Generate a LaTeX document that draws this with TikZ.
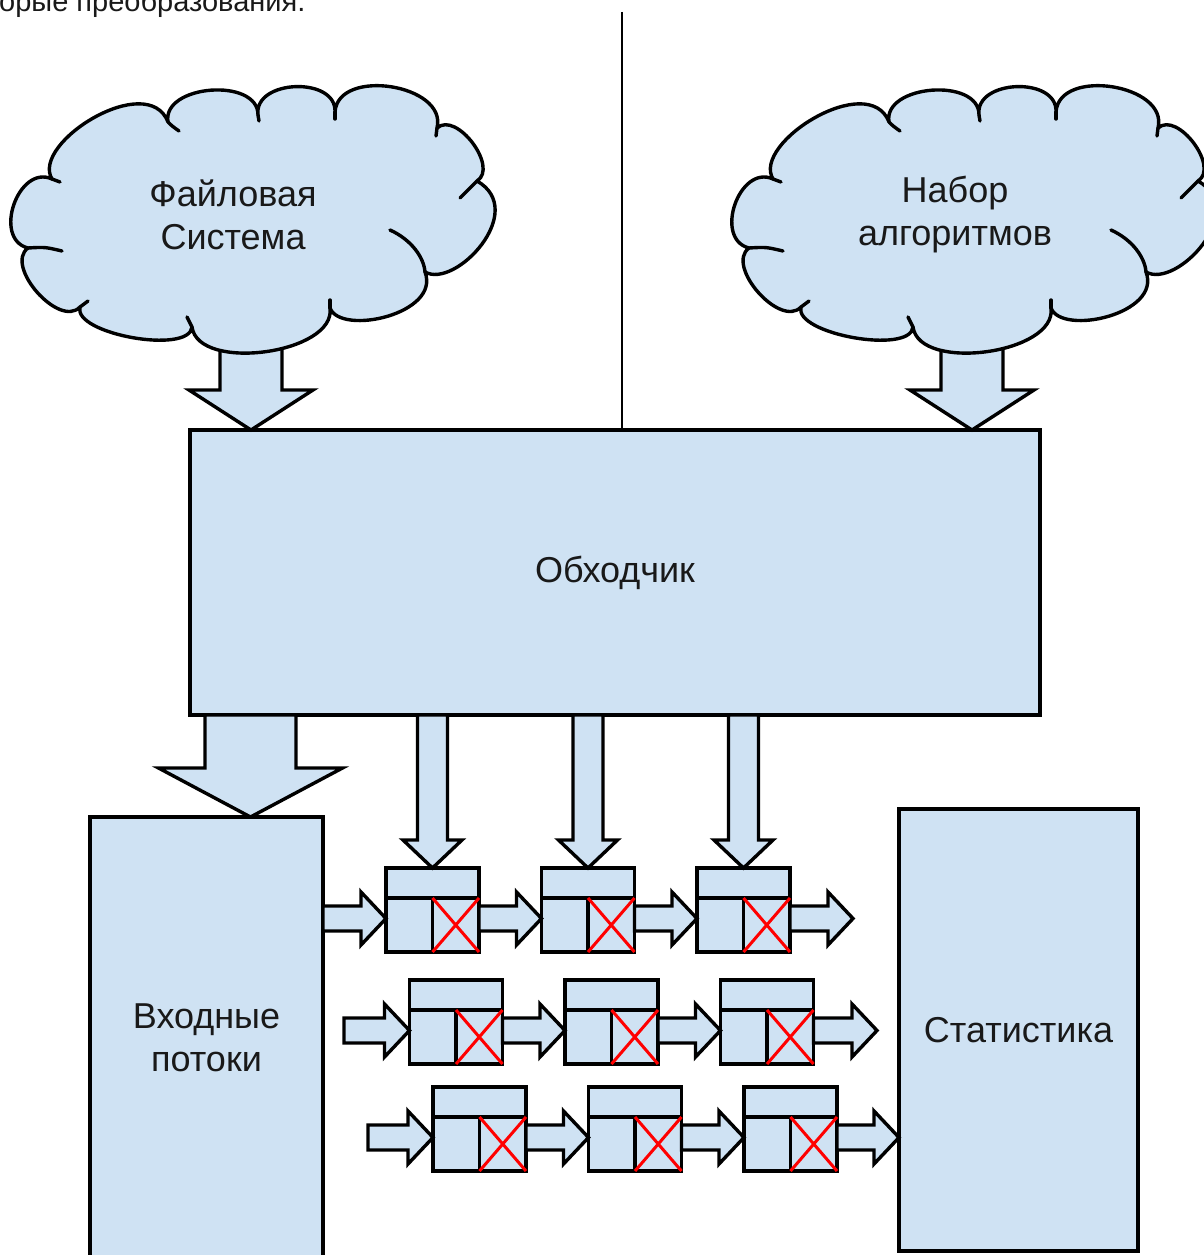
\documentclass[tikz,border=0pt]{standalone}
\usepackage{fontspec}
\setmainfont{Liberation Sans}
\usetikzlibrary{calc}

\definecolor{paleblue}{RGB}{207,226,243}
\definecolor{ink}{RGB}{25,25,25}

\tikzset{
  boxline/.style={draw=black, line width=3.4pt, fill=paleblue, line join=miter},
  block/.style={boxline, inner sep=0pt, outer sep=0pt, anchor=north west},
  cell/.style={block, minimum width=93pt, minimum height=84pt},
  rule/.style={draw=black, line width=3.4pt},
  redcross/.style={draw=red, line width=3pt},
  cloudline/.style={draw=black, line width=3.4pt, fill=paleblue, line join=round},
  tail/.style={draw=black, line width=3.4pt, line cap=round},
  caption/.style={font=\fontsize{36}{43}\selectfont, align=center, text=ink},
}

% vertical block arrow: #1 start, #2 tip, #3 shaft half width, #4 head half width, #5 head length
\newcommand\vblock[5]{%
  \draw[boxline] ($(#1)+(-#3,0)$) -- ($(#2)+(-#3,-#5)$) -- ($(#2)+(-#4,-#5)$) -- (#2)
    -- ($(#2)+(#4,-#5)$) -- ($(#2)+(#3,-#5)$) -- ($(#1)+(#3,0)$) -- cycle;}

% horizontal block arrow: #1 start, #2 tip, #3 shaft half height, #4 head half height, #5 head length
\newcommand\hblock[5]{%
  \draw[boxline] ($(#1)+(0,-#3)$) -- ($(#2)+(-#5,-#3)$) -- ($(#2)+(-#5,-#4)$) -- (#2)
    -- ($(#2)+(-#5,#4)$) -- ($(#2)+(-#5,#3)$) -- ($(#1)+(0,#3)$) -- cycle;}

% cloud: #1 name prefix, #2 horizontal offset
\newcommand\drawcloud[2]{%
\begin{scope}[shift={(#2,0)}]
  \coordinate (#1c1) at (52,179);
  \coordinate (#1c2) at (168,122);
  \coordinate (#1c3) at (258,115);
  \coordinate (#1c4) at (335,112);
  \coordinate (#1c5) at (437,128);
  \coordinate (#1c6) at (477,181);
  \coordinate (#1c7) at (425,272);
  \coordinate (#1c8) at (330,308);
  \coordinate (#1c9) at (192,327);
  \coordinate (#1c10) at (80,307);
  \coordinate (#1c11) at (28,248);
  \path[cloudline] (#1c1)
    .. controls ($(#1c1)!42pt!95:(#1c2)$) and ($(#1c2)!56pt!-95:(#1c1)$) .. (#1c2)
    .. controls ($(#1c2)!38pt!95:(#1c3)$) and ($(#1c3)!38pt!-95:(#1c2)$) .. (#1c3)
    .. controls ($(#1c3)!36pt!95:(#1c4)$) and ($(#1c4)!36pt!-95:(#1c3)$) .. (#1c4)
    .. controls ($(#1c4)!45pt!95:(#1c5)$) and ($(#1c5)!45pt!-95:(#1c4)$) .. (#1c5)
    .. controls ($(#1c5)!26pt!95:(#1c6)$) and ($(#1c6)!26pt!-95:(#1c5)$) .. (#1c6)
    .. controls ($(#1c6)!60pt!90:(#1c7)$) and ($(#1c7)!35pt!-90:(#1c6)$) .. (#1c7)
    .. controls ($(#1c7)!45pt!90:(#1c8)$) and ($(#1c8)!30pt!-90:(#1c7)$) .. (#1c8)
    .. controls ($(#1c8)!46pt!90:(#1c9)$) and ($(#1c9)!46pt!-90:(#1c8)$) .. (#1c9)
    .. controls ($(#1c9)!28pt!95:(#1c10)$) and ($(#1c10)!28pt!-95:(#1c9)$) .. (#1c10)
    .. controls ($(#1c10)!30pt!95:(#1c11)$) and ($(#1c11)!30pt!-95:(#1c10)$) .. (#1c11)
    .. controls ($(#1c11)!37pt!95:(#1c1)$) and ($(#1c1)!37pt!-95:(#1c11)$) .. (#1c1)
    -- cycle;
  % inner strokes where the puffs overlap
  \draw[tail] (#1c1) -- (60,182);
  \draw[tail] (#1c2) .. controls (172,126) .. (179,131);
  \draw[tail] (#1c3) -- (259,121);
  \draw[tail] (#1c4) -- (335,119);
  \draw[tail] (#1c5) -- (436,136);
  \draw[tail] (#1c6) .. controls (469,189) .. (460,198);
  \draw[tail] (390,230) .. controls (412,240) and (424,258) .. (#1c7);
  \draw[tail] (330,300) -- (#1c8);
  \draw[tail] (#1c9) -- (187,317);
  \draw[tail] (#1c10) -- (88,301);
  \draw[tail] (62,251) .. controls (45,247) .. (#1c11);
\end{scope}}

\begin{document}
\begin{tikzpicture}[x=1pt,y=-1pt]
\useasboundingbox (0,0) rectangle (1204,1255);
\clip (0,0) rectangle (1204,1255);
\fill[white] (0,0) rectangle (1204,1255);

% tail of the text line above
\node[anchor=base west, inner sep=0pt, font=\fontsize{29}{34}\selectfont, text=ink]
  (pagetext) at (-1,12) {орые преобразования.};

% central walker box
\node[block, caption, minimum width=850pt, minimum height=285pt] (walker) at (190,430) {Обходчик};

% separator line
\coordinate (divtop) at (622,12);
\draw[line width=2.6pt] (divtop) -- (divtop |- walker.north);

% arrows from the clouds into the walker
\coordinate (fsfoot) at (251,325);
\coordinate (algfoot) at (972,325);
\vblock{fsfoot}{fsfoot |- walker.north}{31}{62}{40}
\vblock{algfoot}{algfoot |- walker.north}{31}{62}{40}

% clouds
\drawcloud{fs}{0}
\drawcloud{alg}{721}
\node[caption] (fslabel) at (233,215) {Файловая\\Система};
\node[caption] (alglabel) at (955,215) {Набор\\алгоритмов};

% side boxes
\node[block, minimum width=233pt, minimum height=470pt] (inbox) at (90,817) {};
\node[caption] (inlabel) at (206.5,1038) {Входные\\потоки};
\node[block, caption, minimum width=239pt, minimum height=442pt] (stats) at (899,809) {Статистика};

% walker -> input streams
\coordinate (inhead) at (250.5,817);
\vblock{walker.south -| inhead}{inhead}{45.5}{92}{49}

% queue elements
\foreach \r/\t in {1/868,2/980,3/1087}{
  \foreach \c in {1,2,3}{
    \pgfmathsetmacro\lx{386+23.5*(\r-1)+155.5*(\c-1)}
    \node[cell] (e\r\c) at (\lx,\t) {};
    \draw[rule] ($(e\r\c.north west)+(0,30)$) -- ($(e\r\c.north east)+(0,30)$);
    \draw[rule] ($(e\r\c.north)+(0,30)$) -- (e\r\c.south);
    \draw[redcross] ($(e\r\c.north)+(0,30)$) -- (e\r\c.south east);
    \draw[redcross] ($(e\r\c.north east)+(0,30)$) -- (e\r\c.south);
    \coordinate (e\r\c-w) at ($(e\r\c.north west)+(0,50.5)$);
    \coordinate (e\r\c-e) at ($(e\r\c.north east)+(0,50.5)$);
  }
}

% walker -> first row
\foreach \c in {1,2,3}{
  \vblock{walker.south -| e1\c.north}{e1\c.north}{15}{29.5}{28}
}

% row links
\coordinate (r1start) at (inbox.east |- e11-w);
\coordinate (r2start) at (344,0 |- e21-w);
\coordinate (r3start) at (368,0 |- e31-w);
\coordinate (r1end) at (853,0 |- e13-e);
\coordinate (r2end) at (877,0 |- e23-e);
\coordinate (r3end) at (stats.west |- e33-e);
\foreach \r in {1,2,3}{
  \hblock{r\r start}{e\r1-w}{12.5}{26.5}{25}
  \hblock{e\r1-e}{e\r2-w}{12.5}{26.5}{25}
  \hblock{e\r2-e}{e\r3-w}{12.5}{26.5}{25}
  \hblock{e\r3-e}{r\r end}{12.5}{26.5}{25}
}
\end{tikzpicture}
\end{document}
